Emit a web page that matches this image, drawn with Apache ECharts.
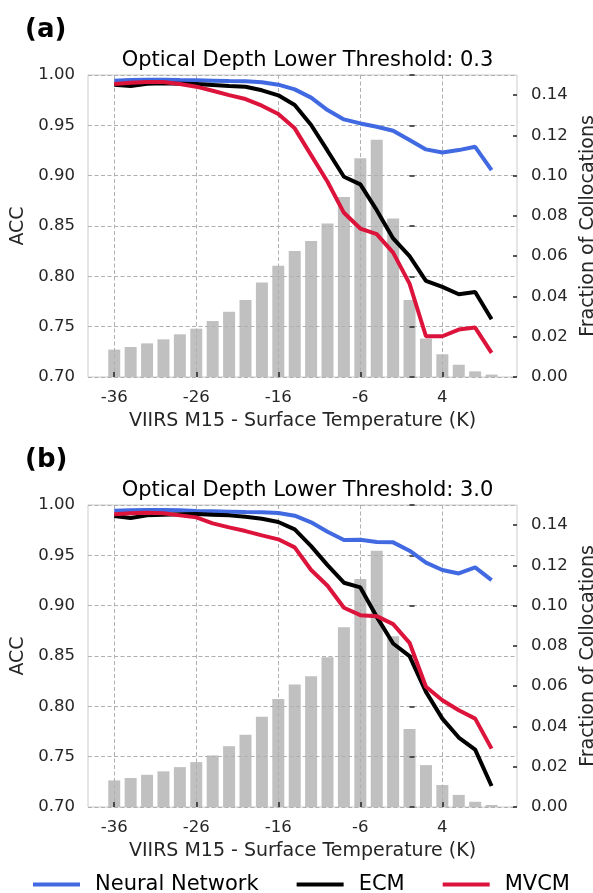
<!DOCTYPE html>
<html>
<head>
<meta charset="utf-8">
<script src="https://cdn.jsdelivr.net/npm/echarts@6/dist/echarts.min.js"></script>
<style>
html,body{margin:0;padding:0;background:#fff;}
#chart{width:593px;height:893px;}
</style>
</head>
<body>
<div id="chart"></div>
<script>
// ---- data ----
const xValues = [-36,-34,-32,-30,-28,-26,-24,-22,-20,-18,-16,-14,-12,-10,-8,-6,-4,-2,0,2,4,6,8,10];
const xTicks = [-36,-26,-16,-6,4];
const rightTicks = [0,0.02,0.04,0.06,0.08,0.10,0.12,0.14];

// Panel (a): optical depth lower threshold 0.3
const fracA = [0.0136,0.0149,0.0167,0.0187,0.0212,0.0240,0.0278,0.0324,0.0382,0.0469,0.0552,0.0626,0.0676,0.0762,0.0894,0.1086,0.1178,0.0787,0.0382,0.0191,0.0113,0.0061,0.0028,0.0012];
const nnA   = [0.9944,0.9950,0.9954,0.9954,0.9950,0.9947,0.9944,0.9940,0.9937,0.9927,0.9904,0.9857,0.9775,0.9652,0.9559,0.9519,0.9486,0.9446,0.9354,0.9261,0.9231,0.9254,0.9287,0.9055];
const ecmA  = [0.9904,0.9890,0.9914,0.9917,0.9914,0.9910,0.9900,0.9890,0.9884,0.9848,0.9798,0.9702,0.9503,0.9248,0.8989,0.8913,0.8657,0.8376,0.8200,0.7955,0.7895,0.7822,0.7845,0.7573];
const mvcmA = [0.9910,0.9924,0.9930,0.9930,0.9910,0.9884,0.9844,0.9800,0.9761,0.9695,0.9612,0.9470,0.9204,0.8939,0.8631,0.8475,0.8419,0.8236,0.7928,0.7405,0.7405,0.7471,0.7491,0.7239];

// Panel (b): optical depth lower threshold 3.0
const fracB = [0.0132,0.0144,0.0160,0.0177,0.0198,0.0223,0.0256,0.0302,0.0359,0.0448,0.0536,0.0608,0.0650,0.0744,0.0893,0.1132,0.1273,0.0848,0.0387,0.0208,0.0109,0.0060,0.0026,0.0010];
const nnB   = [0.9944,0.9947,0.9950,0.9950,0.9947,0.9940,0.9937,0.9934,0.9930,0.9927,0.9920,0.9894,0.9828,0.9735,0.9652,0.9655,0.9632,0.9629,0.9546,0.9427,0.9354,0.9320,0.9380,0.9254];
const ecmB  = [0.9890,0.9870,0.9897,0.9904,0.9907,0.9910,0.9904,0.9897,0.9884,0.9864,0.9831,0.9758,0.9592,0.9403,0.9228,0.9181,0.8889,0.8624,0.8498,0.8144,0.7878,0.7690,0.7570,0.7209];
const mvcmB = [0.9907,0.9917,0.9924,0.9917,0.9897,0.9877,0.9818,0.9778,0.9741,0.9698,0.9659,0.9579,0.9354,0.9198,0.8979,0.8906,0.8896,0.8817,0.8631,0.8194,0.8061,0.7961,0.7878,0.7580];

const seriesNames = ['Neural Network','ECM','MVCM'];
const seriesColors = ['#4169e1','#000000','#dc143c'];
const panelTitles = ['Optical Depth Lower Threshold: 0.3','Optical Depth Lower Threshold: 3.0'];
const panelLabels = ['(a)','(b)'];
const xName = 'VIIRS M15 - Surface Temperature (K)';

// ---- build ----
const FONT = 'DejaVu Sans';
const TXT = '#262626';
const pair = (ys) => xValues.map((x,i)=>[x, ys[i]]);
const panels = [
  {top:75, frac:fracA, lines:[nnA,ecmA,mvcmA]},
  {top:505, frac:fracB, lines:[nnB,ecmB,mvcmB]}
];
const gridLeft = 88, gridW = 429, gridH = 302;

const grids=[], xAxes=[], yAxes=[], series=[], titles=[];
panels.forEach((p, k) => {
  grids.push({left:gridLeft, top:p.top, width:gridW, height:gridH, show:true,
    outerBoundsMode:'none', containLabel:false,
    borderColor:'#cccccc', borderWidth:1, backgroundColor:'transparent'});
  xAxes.push({type:'value', gridIndex:k, min:-39.2, max:13.1, z:3,
    name:xName, nameLocation:'middle', nameGap:35,
    nameTextStyle:{fontFamily:FONT, fontSize:19, color:TXT},
    axisLine:{show:false},
    axisTick:{show:true, inside:true, length:5, customValues:xTicks, lineStyle:{color:'#222', width:1.5}},
    axisLabel:{customValues:xTicks, fontFamily:FONT, fontSize:16.5, color:TXT, margin:12},
    splitLine:{show:true, lineStyle:{color:'#b0b0b0', width:1, type:[4,2.5]}}
  });
  yAxes.push({type:'value', gridIndex:k, position:'left', min:0.7, max:1.0, interval:0.05, z:3,
    name:'ACC', nameLocation:'middle', nameGap:60, nameRotate:90,
    nameTextStyle:{fontFamily:FONT, fontSize:19, color:TXT},
    axisLine:{show:false},
    axisTick:{show:true, inside:true, length:5, lineStyle:{color:'#222', width:1.5}},
    axisLabel:{fontFamily:FONT, fontSize:16.5, color:TXT, margin:13, formatter:v=>v.toFixed(2)},
    splitLine:{show:true, lineStyle:{color:'#b0b0b0', width:1, type:[4,2.5]}}
  });
  yAxes.push({type:'value', gridIndex:k, position:'right', min:0, max:0.15, z:3,
    name:'Fraction of Collocations', nameLocation:'middle', nameGap:54, nameRotate:90,
    nameTextStyle:{fontFamily:FONT, fontSize:19, color:TXT},
    axisLine:{show:false},
    axisTick:{show:true, inside:true, length:4, customValues:rightTicks, lineStyle:{color:'#222', width:1.5}},
    axisLabel:{customValues:rightTicks, fontFamily:FONT, fontSize:16.5, color:TXT, margin:14, formatter:v=>v.toFixed(2)},
    splitLine:{show:false}
  });
  series.push({type:'bar', name:'Fraction', xAxisIndex:k, yAxisIndex:2*k+1, data:pair(p.frac),
    barWidth:12, itemStyle:{color:'#c0c0c0'}, z:2, silent:true});
  p.lines.forEach((ys, j) => {
    series.push({type:'line', name:seriesNames[j], xAxisIndex:k, yAxisIndex:2*k, data:pair(ys),
      symbol:'none', z:5+j, lineStyle:{color:seriesColors[j], width:4}, itemStyle:{color:seriesColors[j]}});
  });
  titles.push({text:panelTitles[k], left:302.5, textAlign:'center', top:p.top-30,
    textStyle:{fontFamily:FONT, fontSize:21, fontWeight:'normal', color:'#000'}});
  titles.push({text:panelLabels[k], left:20, top:p.top-63,
    textStyle:{fontFamily:FONT, fontSize:26, fontWeight:'bold', color:'#000'}});
});

const chart = echarts.init(document.getElementById('chart'), null, {renderer:'canvas'});
chart.setOption({
  animation:false,
  backgroundColor:'#ffffff',
  title:titles,
  grid:grids,
  xAxis:xAxes,
  yAxis:yAxes,
  legend:{data:seriesNames, left:28, top:869, icon:'rect', itemWidth:47, itemHeight:4,
    itemGap:38, textStyle:{fontFamily:FONT, fontSize:21, color:'#000', padding:[0,0,0,10]}},
  series:series
});
</script>
</body>
</html>
